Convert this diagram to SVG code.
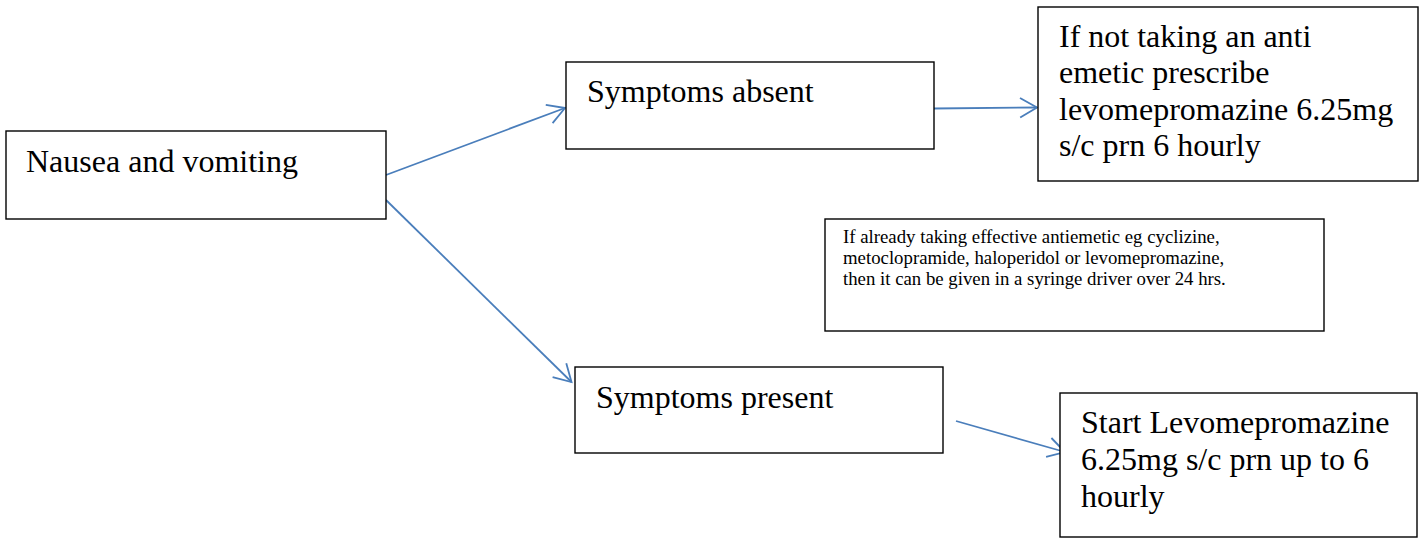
<svg xmlns="http://www.w3.org/2000/svg" width="1421" height="538" viewBox="0 0 1421 538">
<style>
.box{fill:#fff;stroke:#000;stroke-width:1.4}
.t{font-family:"Liberation Serif","Times New Roman",serif;font-size:32px;fill:#000}
.s{font-family:"Liberation Serif","Times New Roman",serif;font-size:18.8px;fill:#000}
.c{fill:none;stroke:#4A7EBB;stroke-width:1.8}
</style>
<defs>
<marker id="arr" markerUnits="userSpaceOnUse" markerWidth="40" markerHeight="40" refX="0" refY="0" orient="auto" overflow="visible">
<path d="M-16.9,-9.75 L0,0 L-16.9,9.75" fill="none" stroke="#4A7EBB" stroke-width="1.8"/>
</marker>
</defs>
<rect width="1421" height="538" fill="#fff"/>
<g id="connectors">
<line class="c" x1="386" y1="175" x2="565" y2="108" marker-end="url(#arr)"/>
<line class="c" x1="386" y1="200" x2="571.5" y2="382" marker-end="url(#arr)"/>
<line class="c" x1="934" y1="108.5" x2="1037" y2="107.5" marker-end="url(#arr)"/>
<line class="c" x1="956" y1="421" x2="1065" y2="452" marker-end="url(#arr)"/>
</g>
<g id="nausea">
<rect class="box" x="6" y="131" width="380" height="88"/>
<text class="t" x="26" y="172">Nausea and vomiting</text>
</g>
<g id="absent">
<rect class="box" x="566" y="62" width="368" height="87"/>
<text class="t" x="587" y="102">Symptoms absent</text>
</g>
<g id="not-taking">
<rect class="box" x="1038" y="7" width="380" height="174"/>
<text class="t" x="1059" y="47">If not taking an anti</text>
<text class="t" x="1059" y="83">emetic prescribe</text>
<text class="t" x="1059" y="119.5">levomepromazine 6.25mg</text>
<text class="t" x="1059" y="156">s/c prn 6 hourly</text>
</g>
<g id="already-taking">
<rect class="box" x="825" y="219" width="499" height="112"/>
<text class="s" x="843" y="243">If already taking effective antiemetic eg cyclizine,</text>
<text class="s" x="843" y="264">metoclopramide, haloperidol or levomepromazine,</text>
<text class="s" x="843" y="285">then it can be given in a syringe driver over 24 hrs.</text>
</g>
<g id="present">
<rect class="box" x="575" y="367" width="368" height="86"/>
<text class="t" x="596" y="408">Symptoms present</text>
</g>
<g id="start-levo">
<rect class="box" x="1060" y="393" width="357" height="144"/>
<text class="t" x="1081" y="433">Start Levomepromazine</text>
<text class="t" x="1081" y="470">6.25mg s/c prn up to 6</text>
<text class="t" x="1081" y="507">hourly</text>
</g>
</svg>
